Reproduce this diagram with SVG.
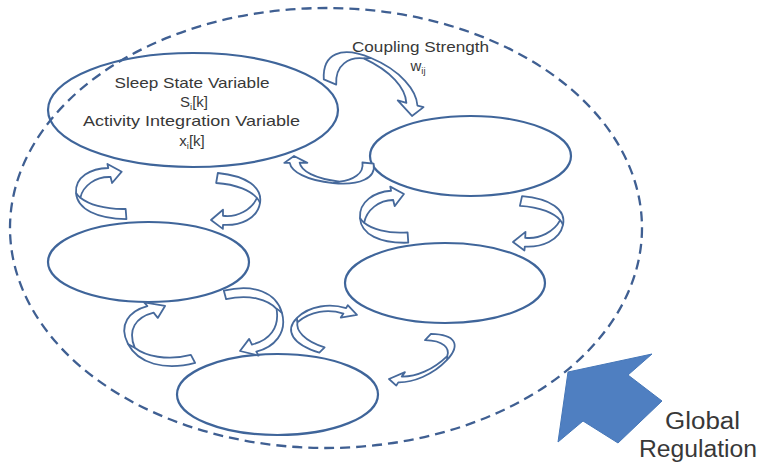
<svg xmlns="http://www.w3.org/2000/svg" width="765" height="464" viewBox="0 0 765 464">
  <defs>
    <style>
      .region{fill:none;stroke:#3f5f92;stroke-width:2.3;stroke-dasharray:10 6}
      .node{fill:none;stroke:#3f659a;stroke-width:2.2}
      .curl{fill:#fff;stroke:#46699b;stroke-width:1.8;stroke-linejoin:round;vector-effect:non-scaling-stroke}
      .fold{fill:none;stroke:#46699b;stroke-width:1.8;vector-effect:non-scaling-stroke}
      .lbl{font-family:"Liberation Sans",Arial,sans-serif;fill:#383838;font-size:15px}
      .big{font-size:23px}
      .sub{font-size:9.5px}
    </style>
    <!-- compact ribbon arrow: bulge on the left, head top-right, tail bottom-right -->
    <g id="curl">
      <path class="curl" d="M-23,1 C-23,-15 -7,-23 9.5,-23 L9,-27 L22,-19 L12,-8 L11,-14 C-3,-15 -16,-6 -19.2,5.8 C-12.2,12.2 2.2,18 23,18 L23,28 C-5,27 -23,17 -23,1 Z"/>
      <path class="fold" d="M-23,1 C-22.2,2.6 -20.9,4.2 -19.2,5.8"/>
    </g>
    <!-- longer ribbon arrow, same layout -->
    <g id="curl-wide">
      <path class="curl" d="M-22,0 C-22,-24 -8,-36 7,-36 L6,-41 L20,-31 L10,-20 L9,-27 C-6,-27 -17,-16 -18.5,6 C-14,18 0,30 20,30 L20,40 C-6,40 -22,24 -22,0 Z"/>
      <path class="fold" d="M-22,0 C-21,2 -20,4 -18.5,6"/>
    </g>
  </defs>

  <rect width="765" height="464" fill="#fff"/>

  <!-- population boundary -->
  <ellipse class="region" cx="326" cy="228" rx="316" ry="220"/>

  <!-- oscillator nodes -->
  <g id="node-1">
    <ellipse class="node" cx="193" cy="110" rx="145" ry="57"/>
    <text class="lbl" x="192" y="88" text-anchor="middle" textLength="155" lengthAdjust="spacingAndGlyphs">Sleep State Variable</text>
    <text class="lbl" x="194" y="107" text-anchor="middle">S<tspan class="sub" dy="3">i</tspan><tspan dy="-3">[k]</tspan></text>
    <text class="lbl" x="191.5" y="126" text-anchor="middle" textLength="217" lengthAdjust="spacingAndGlyphs">Activity Integration Variable</text>
    <text class="lbl" x="192" y="146" text-anchor="middle">x<tspan class="sub" dy="3">i</tspan><tspan dy="-3">[k]</tspan></text>
  </g>
  <g id="node-2">
    <ellipse class="node" cx="470.5" cy="156" rx="100.5" ry="40"/>
  </g>
  <g id="node-3">
    <ellipse class="node" cx="148.5" cy="262" rx="100.5" ry="40"/>
  </g>
  <g id="node-4">
    <ellipse class="node" cx="445" cy="283" rx="100" ry="40"/>
  </g>
  <g id="node-5">
    <ellipse class="node" cx="277.5" cy="394.5" rx="100.5" ry="40.5"/>
  </g>

  <!-- coupling arrows between nodes -->
  <g id="connectors">
    <use href="#curl-wide" transform="matrix(0.059,1.0,-1.242,-0.515,372.3,80.0)"/>
    <use href="#curl-wide" transform="matrix(-0.101,-0.565,1.121,0.106,330.8,170.6)"/>
    <use href="#curl" transform="matrix(1.050,-0.025,0.078,1.008,100.1,191.4)"/>
    <use href="#curl" transform="matrix(-1.015,-0.066,0.167,-0.999,236.5,202.5)"/>
    <use href="#curl" transform="matrix(1.009,-0.072,0.071,1.037,383.1,215.3)"/>
    <use href="#curl" transform="matrix(-1.016,-0.056,0.215,-0.975,539.4,224.7)"/>
    <use href="#curl-wide" transform="matrix(1.194,-0.312,0.424,0.803,154.3,337.1)"/>
    <use href="#curl-wide" transform="matrix(-1.168,0.279,-0.227,-0.849,256.3,319.1)"/>
    <use href="#curl-wide" transform="matrix(1.037,0.32,-0.53,0.53,319.8,325.0)"/>
    <use href="#curl-wide" transform="matrix(-0.945,-0.017,0.591,-0.636,426.2,359.6)"/>
  </g>

  <g id="coupling-label">
    <text class="lbl" x="420.5" y="52" text-anchor="middle" textLength="137" lengthAdjust="spacingAndGlyphs">Coupling Strength</text>
    <text class="lbl" x="418" y="71" text-anchor="middle">w<tspan class="sub" dy="3">ij</tspan></text>
  </g>

  <!-- external drive -->
  <g id="global-regulation">
    <polygon points="568,372 652,354 628,375 662,401 618,443 583,421 558,442" fill="#4f7fc1" stroke="#4677b8" stroke-width="1"/>
    <text class="lbl big" x="665" y="429" textLength="75" lengthAdjust="spacingAndGlyphs">Global</text>
    <text class="lbl big" x="639" y="457" textLength="118" lengthAdjust="spacingAndGlyphs">Regulation</text>
  </g>
</svg>
